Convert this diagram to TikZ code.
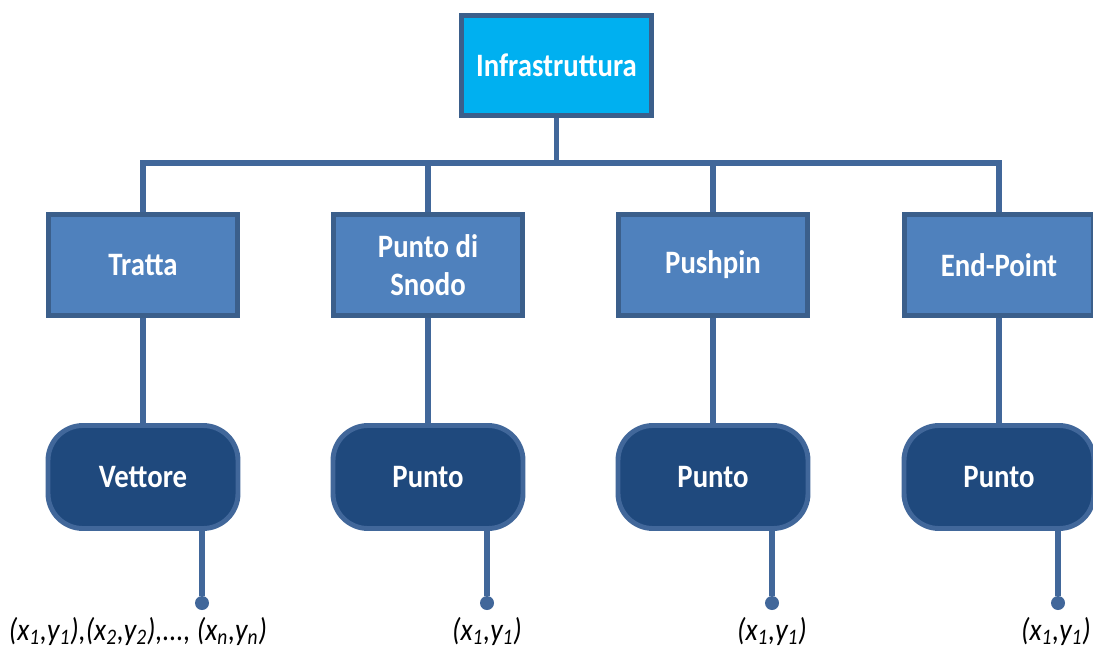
\documentclass[tikz,border=0pt]{standalone}
\usepackage{fontspec}
\setmainfont{Carlito}[FakeStretch=0.88]
\usepackage{xcolor}
\usepackage{tikz}
\usetikzlibrary{positioning}

\definecolor{cyanbox}{HTML}{00B0F0}
\definecolor{midbox}{HTML}{4F81BD}
\definecolor{darkbox}{HTML}{1F497D}
\definecolor{edgeblue}{HTML}{3B5F8B}
\definecolor{wireblue}{HTML}{41679A}

\tikzset{
	wire/.style={draw=wireblue, line width=2.9pt},
	topbox/.style={draw=edgeblue, fill=cyanbox, line width=2.8pt, minimum width=3.8cm, minimum height=2cm, text=white, font=\fontsize{18.6}{21.5}\selectfont\bfseries, align=center},
	midbox/.style={topbox, fill=midbox, minimum width=3.78cm, minimum height=2.02cm},
	leafbox/.style={draw=wireblue, fill=darkbox, line width=2.8pt, rounded corners=0.7cm, minimum width=3.8cm, minimum height=2.06cm, text=white, font=\fontsize{18.6}{21.5}\selectfont\bfseries},
	enddot/.style={circle, fill=wireblue, inner sep=0pt, minimum size=0.28cm},
	coordlabel/.style={font=\fontsize{18}{21}\selectfont\itshape, anchor=base}
}

\begin{document}
\begin{tikzpicture}
			\useasboundingbox (0, 0) rectangle (21.86, 13.04);
			% Boxes, lines and labels:
			\node[topbox](inf) at (11.13, 11.73){Infrastruttura};
			\coordinate (bar) at (11.13, 9.78);
			\node[midbox](tratta) at (2.86, 7.74){Tratta};
			\node[midbox](snodo) at (8.56, 7.74){Punto di\\Snodo};
			\node[midbox](pushpin) at (14.26, 7.74){Pushpin};
			\node[midbox](endpoint) at (19.98, 7.74){End-Point};
			\draw[wire] (inf.south) -- (bar);
			\draw[wire] (tratta.north) |- (bar) -| (endpoint.north);
			\draw[wire] (snodo.north) -- (snodo.north |- bar);
			\draw[wire] (pushpin.north) -- (pushpin.north |- bar);
			\node[leafbox](vettore) at (2.86, 3.5){Vettore};
			\node[leafbox](punto1) at (8.56, 3.5){Punto};
			\node[leafbox](punto2) at (14.26, 3.5){Punto};
			\node[leafbox](punto3) at (19.98, 3.5){Punto};
			\draw[wire] (tratta) -- (vettore);
			\draw[wire] (snodo) -- (punto1);
			\draw[wire] (pushpin) -- (punto2);
			\draw[wire] (endpoint) -- (punto3);
			\node[enddot](d1) at (4.04, 0.98){};
			\node[enddot](d2) at (9.74, 0.98){};
			\node[enddot](d3) at (15.44, 0.98){};
			\node[enddot](d4) at (21.16, 0.98){};
			\draw[wire] (vettore.south -| d1) -- (d1);
			\draw[wire] (punto1.south -| d2) -- (d2);
			\draw[wire] (punto2.south -| d3) -- (d3);
			\draw[wire] (punto3.south -| d4) -- (d4);
			\node[coordlabel](l1) at (2.76, 0.24){(x\textsubscript{1},y\textsubscript{1}),(x\textsubscript{2},y\textsubscript{2}),..., (x\textsubscript{n},y\textsubscript{n})};
			\node[coordlabel](l2) at (9.74, 0.24){(x\textsubscript{1},y\textsubscript{1})};
			\node[coordlabel](l3) at (15.44, 0.24){(x\textsubscript{1},y\textsubscript{1})};
			\node[coordlabel](l4) at (21.12, 0.24){(x\textsubscript{1},y\textsubscript{1})};
		\end{tikzpicture}
\end{document}
